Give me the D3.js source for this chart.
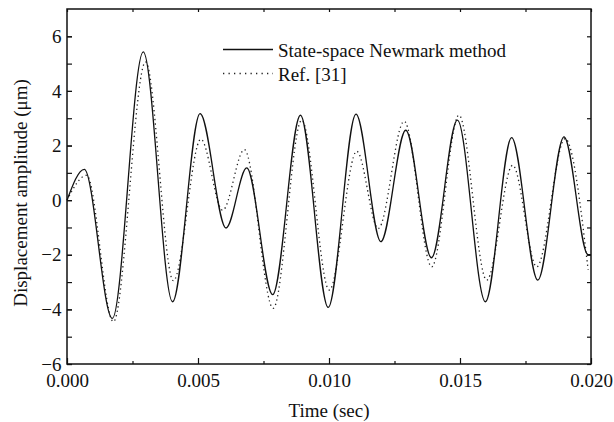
<!DOCTYPE html>
<html lang="en">
	<head>
		<meta charset="utf-8">
		<title>Displacement amplitude</title>
		<script src="https://d3js.org/d3.v7.min.js"></script>
		<style type="text/css">
		body { margin: 0; background: #fff; }
		text {
			font-family: "Liberation Serif", "Times New Roman", serif;
			font-size: 19px;
			fill: #111;
		}
		</style>
	</head>
	<body>
		<div id="chart"></div>
		<script type="text/javascript">
		// State-space Newmark method (solid), read at peaks / troughs
		var timeSS = [0, 0.00066, 0.00173, 0.00291, 0.00403, 0.00508, 0.00607, 0.00686,
			0.00785, 0.00891, 0.00997, 0.01103, 0.01198, 0.01293, 0.01391, 0.0149,
			0.01597, 0.01697, 0.01797, 0.01897, 0.01989, 0.02];
		var dispSS = [0, 1.13, -4.33, 5.43, -3.72, 3.17, -1.02, 1.18,
			-3.46, 3.11, -3.93, 3.15, -1.52, 2.56, -2.11, 2.93,
			-3.72, 2.29, -2.93, 2.32, -2.0, -2.0];

		// Ref. [31] (dotted)
		var timeRef = [0, 0.00075, 0.00177, 0.003, 0.00406, 0.00511, 0.00594, 0.00677,
			0.00787, 0.00896, 0.01001, 0.01106, 0.01188, 0.01287, 0.01392, 0.01496,
			0.01602, 0.01701, 0.01793, 0.01901, 0.01989];
		var dispRef = [0, 0.91, -4.45, 5.06, -2.95, 2.23, -0.37, 1.85,
			-3.96, 2.93, -3.29, 1.79, -1.04, 2.89, -2.44, 3.11,
			-2.93, 1.28, -2.44, 2.25, -2.55];

		var xMajor = [0, 0.005, 0.010, 0.015, 0.020];
		var xMinor = [0.0025, 0.0075, 0.0125, 0.0175];
		var yMajor = [-6, -4, -2, 0, 2, 4, 6];
		var yAll = [-6, -5, -4, -3, -2, -1, 0, 1, 2, 3, 4, 5, 6];

		var w = 614;
		var h = 422;
		var padL = 67, padR = 591, padT = 9, padB = 364;

		var xScale = d3.scaleLinear()
		.domain([0, 0.02])
		.range([padL, padR]);

		var yScale = d3.scaleLinear()
		.domain([-6, 7])
		.range([padB, padT]);

		var svg = d3.select("#chart")
		.append("svg")
		.attr("width", w)
		.attr("height", h);

		// bottom axis, labelled majors
		svg.append("g")
		.attr("transform", "translate(0," + padB + ")")
		.call(d3.axisBottom(xScale).tickValues(xMajor).tickSize(-6).tickPadding(9.5)
			.tickFormat(d3.format(".3f")))
		.call(g => g.select(".domain").remove());

		// bottom minor ticks
		svg.append("g")
		.attr("transform", "translate(0," + padB + ")")
		.call(d3.axisBottom(xScale).tickValues(xMinor).tickSize(-3).tickFormat(""))
		.call(g => g.select(".domain").remove());

		// top ticks
		svg.append("g")
		.attr("transform", "translate(0," + padT + ")")
		.call(d3.axisTop(xScale).tickValues(xMajor.concat(xMinor)).tickSize(-3).tickFormat(""))
		.call(g => g.select(".domain").remove());

		// left axis
		svg.append("g")
		.attr("transform", "translate(" + padL + ",0)")
		.call(d3.axisLeft(yScale).tickValues(yMajor).tickSize(-5).tickPadding(5.5)
			.tickFormat(d3.format("d")))
		.call(g => g.select(".domain").remove());

		svg.append("g")
		.attr("transform", "translate(" + padL + ",0)")
		.call(d3.axisLeft(yScale).tickValues(yAll).tickSize(-5).tickFormat(""))
		.call(g => g.select(".domain").remove());

		// right ticks
		svg.append("g")
		.attr("transform", "translate(" + padR + ",0)")
		.call(d3.axisRight(yScale).tickValues(yAll).tickSize(-4).tickFormat(""))
		.call(g => g.select(".domain").remove());

		svg.selectAll(".tick line")
		.attr("stroke", "#111")
		.attr("stroke-width", 1.2);

		svg.selectAll(".tick text")
		.style("font-family", "'Liberation Serif', 'Times New Roman', serif")
		.style("font-size", "19px")
		.attr("fill", "#111");

		// frame
		svg.append("rect")
		.attr("x", padL)
		.attr("y", padT)
		.attr("width", padR - padL)
		.attr("height", padB - padT)
		.attr("fill", "none")
		.attr("stroke", "#111")
		.attr("stroke-width", 1.5);

		var line = d3.line()
		.x(d => xScale(d[0]))
		.y(d => yScale(d[1]))
		.curve(d3.curveMonotoneX);

		svg.append("path")
		.datum(d3.zip(timeRef, dispRef))
		.attr("d", line)
		.attr("fill", "none")
		.attr("stroke", "#222")
		.attr("stroke-width", 1.3)
		.attr("stroke-dasharray", "1.3,3.2");

		svg.append("path")
		.datum(d3.zip(timeSS, dispSS))
		.attr("d", line)
		.attr("fill", "none")
		.attr("stroke", "#111")
		.attr("stroke-width", 1.3);

		// legend
		svg.append("line")
		.attr("x1", 223).attr("x2", 273)
		.attr("y1", 49.5).attr("y2", 49.5)
		.attr("stroke", "#111")
		.attr("stroke-width", 1.3);

		svg.append("line")
		.attr("x1", 223).attr("x2", 273)
		.attr("y1", 73.5).attr("y2", 73.5)
		.attr("stroke", "#222")
		.attr("stroke-width", 1.3)
		.attr("stroke-dasharray", "1.3,4.2");

		svg.append("text")
		.attr("x", 278).attr("y", 57)
		.text("State-space Newmark method");

		svg.append("text")
		.attr("x", 278).attr("y", 81)
		.text("Ref. [31]");

		// axis titles
		svg.append("text")
		.attr("x", (padL + padR) / 2)
		.attr("y", 417)
		.attr("text-anchor", "middle")
		.text("Time (sec)");

		svg.append("text")
		.attr("transform", "translate(27,193) rotate(-90)")
		.attr("text-anchor", "middle")
		.text("Displacement amplitude (μm)");
		</script>
	</body>
</html>
